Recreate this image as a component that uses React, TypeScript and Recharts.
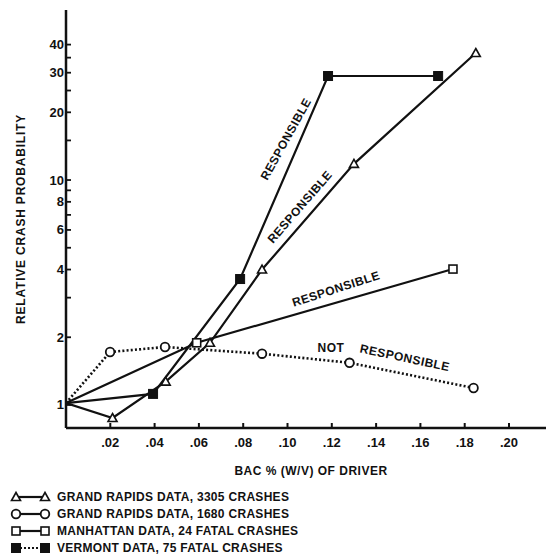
import React from 'react';
import { LineChart, Line, XAxis, YAxis, ReferenceDot } from 'recharts';

// Grand Rapids data, 3305 crashes (triangles)
const grBac3305 = [0, 0.021, 0.045, 0.065, 0.0885, 0.13, 0.185];
const grRel3305 = [1.02, 0.875, 1.27, 1.89, 4.0, 11.8, 36.7];
// Grand Rapids data, 1680 crashes (circles)
const grBac1680 = [0, 0.0199, 0.0447, 0.0885, 0.128, 0.184];
const grRel1680 = [1.02, 1.72, 1.81, 1.69, 1.54, 1.19];
// Manhattan data, 24 fatal crashes (open squares)
const mnBac = [0, 0.059, 0.1747];
const mnRel = [1.02, 1.89, 4.02];
// Vermont data, 75 fatal crashes (filled squares)
const vtBac = [0, 0.0393, 0.0786, 0.1183, 0.168];
const vtRel = [1.02, 1.12, 3.63, 29, 29];

const xTicks = [0.02, 0.04, 0.06, 0.08, 0.1, 0.12, 0.14, 0.16, 0.18, 0.2];
const xTickLabels = ['.02', '.04', '.06', '.08', '.10', '.12', '.14', '.16', '.18', '.20'];
const yTicks = [1, 2, 3, 4, 5, 6, 7, 8, 9, 10, 15, 20, 25, 30, 35, 40];
const yLabeled = [1, 2, 4, 6, 8, 10, 20, 30, 40];

const legendLabels = [
  'GRAND RAPIDS DATA, 3305 CRASHES',
  'GRAND RAPIDS DATA, 1680 CRASHES',
  'MANHATTAN DATA, 24 FATAL CRASHES',
  'VERMONT DATA, 75 FATAL CRASHES',
];

const noteText = ['RESPONSIBLE', 'RESPONSIBLE', 'RESPONSIBLE', 'NOT', 'RESPONSIBLE'];
const noteBac = [0.0993, 0.1056, 0.1219, 0.1196, 0.153];
const noteRel = [15.2, 7.59, 3.28, 1.79, 1.62];
const noteAngle = [-61, -49, -18, 0, 12];

const INK = '#111';
const FONT = '"Liberation Sans", Arial, Helvetica, sans-serif';

const toRows = (xs: number[], ys: number[]) => xs.map((x, i) => ({ x, y: ys[i] }));

type Kind = 'triangle' | 'circle' | 'square' | 'filled';

const series: { name: string; data: { x: number; y: number }[]; kind: Kind; dotted: boolean }[] = [
  { name: legendLabels[0], data: toRows(grBac3305, grRel3305), kind: 'triangle', dotted: false },
  { name: legendLabels[1], data: toRows(grBac1680, grRel1680), kind: 'circle', dotted: true },
  { name: legendLabels[2], data: toRows(mnBac, mnRel), kind: 'square', dotted: false },
  { name: legendLabels[3], data: toRows(vtBac, vtRel), kind: 'filled', dotted: false },
];
const legendDotted = [false, false, false, true];

function Marker({ kind, cx, cy }: { kind: Kind; cx: number; cy: number }) {
  if (kind === 'triangle') {
    return (
      <polygon
        points={`${cx},${cy - 4.5} ${cx + 4.5},${cy + 3.5} ${cx - 4.5},${cy + 3.5}`}
        fill="#fff"
        stroke={INK}
        strokeWidth={1.6}
      />
    );
  }
  if (kind === 'circle') {
    return <circle cx={cx} cy={cy} r={4.3} fill="#fff" stroke={INK} strokeWidth={1.8} />;
  }
  if (kind === 'square') {
    return <rect x={cx - 4} y={cy - 4} width={8} height={8} fill="#fff" stroke={INK} strokeWidth={1.6} />;
  }
  return <rect x={cx - 4.5} y={cy - 4.5} width={9} height={9} fill={INK} stroke={INK} strokeWidth={1} />;
}

const makeDot = (kind: Kind, name: string) => (props: any) => {
  const { cx, cy, index } = props;
  if (index === 0 || cx == null || cy == null) return <g key={`${name}-${index}`} />;
  return (
    <g key={`${name}-${index}`}>
      <Marker kind={kind} cx={cx} cy={cy} />
    </g>
  );
};

const X_MARGIN = 14;
const Y_MARGIN = 7;
const TICK_LEN = 5;

const XTick = (props: any) => {
  const { x, y, payload } = props;
  const i = xTicks.indexOf(payload.value);
  const axisY = y - X_MARGIN + TICK_LEN;
  return (
    <g>
      <line x1={x} x2={x} y1={axisY} y2={axisY - TICK_LEN} stroke={INK} strokeWidth={2} />
      <text x={x} y={y} textAnchor="middle" dominantBaseline="hanging" fontFamily={FONT} fontWeight="bold" fontSize={13} fill={INK}>
        {i >= 0 ? xTickLabels[i] : ''}
      </text>
    </g>
  );
};

const YTick = (props: any) => {
  const { x, y, payload } = props;
  const show = yLabeled.includes(payload.value);
  const axisX = x + Y_MARGIN - TICK_LEN;
  return (
    <g>
      <line x1={axisX} x2={axisX + TICK_LEN} y1={y} y2={y} stroke={INK} strokeWidth={1.8} />
      <text x={x} y={y} textAnchor="end" dominantBaseline="central" fontFamily={FONT} fontWeight="bold" fontSize={13} fill={INK}>
        {show ? String(payload.value) : ''}
      </text>
    </g>
  );
};

const noteLabel = (i: number) => (p: any) => {
  const vb = p.viewBox || {};
  const cx = (vb.x ?? 0) + (vb.width ?? 0) / 2;
  const cy = (vb.y ?? 0) + (vb.height ?? 0) / 2;
  return (
    <text
      x={cx}
      y={cy}
      textAnchor="middle"
      dominantBaseline="central"
      transform={`rotate(${noteAngle[i]} ${cx} ${cy})`}
      fontFamily={FONT}
      fontWeight="bold"
      fontSize={12}
      letterSpacing={0.5}
      fill={INK}
    >
      {noteText[i]}
    </text>
  );
};

function Legend() {
  return (
    <svg width={340} height={70} style={{ position: 'absolute', left: 0, top: 488 }}>
      {series.map((s, i) => {
        const cy = 9 + i * 17;
        return (
          <g key={s.name}>
            <line
              x1={16}
              x2={45}
              y1={cy}
              y2={cy}
              stroke={INK}
              strokeWidth={2.2}
              strokeDasharray={legendDotted[i] ? '2 2' : undefined}
            />
            <Marker kind={s.kind} cx={16} cy={cy} />
            <Marker kind={s.kind} cx={45} cy={cy} />
            <text x={57} y={cy} dominantBaseline="central" fontFamily={FONT} fontWeight="bold" fontSize={12} letterSpacing={0.3} fill={INK}>
              {s.name}
            </text>
          </g>
        );
      })}
    </svg>
  );
}

export default function App() {
  return (
    <div style={{ position: 'absolute', left: 0, top: 0, width: 546, height: 558, background: '#fff', overflow: 'hidden' }}>
      <LineChart width={546} height={558} margin={{ top: 10, right: 0, left: 0, bottom: 80 }}>
        <XAxis
          dataKey="x"
          type="number"
          domain={[0, 0.2167]}
          allowDataOverflow
          ticks={xTicks}
          interval={0}
          tick={<XTick />}
          tickSize={-TICK_LEN}
          tickMargin={X_MARGIN}
          tickLine={false}
          axisLine={{ stroke: INK, strokeWidth: 2.5 }}
          height={50}
          label={{
            value: 'BAC % (W/V) OF DRIVER',
            position: 'insideBottom',
            offset: 3,
            dx: 5,
            style: { fontFamily: FONT, fontWeight: 'bold', fontSize: 12, letterSpacing: 0.5, fill: INK },
          }}
        />
        <XAxis
          xAxisId="top"
          orientation="top"
          type="number"
          domain={[0, 0.2167]}
          allowDataOverflow
          tick={false}
          tickLine={false}
          height={0}
          axisLine={{ stroke: INK, strokeWidth: 2 }}
        />
        <YAxis
          type="number"
          scale="log"
          domain={[0.79, 57]}
          allowDataOverflow
          ticks={yTicks}
          interval={0}
          tick={<YTick />}
          tickSize={-TICK_LEN}
          tickMargin={Y_MARGIN}
          tickLine={false}
          axisLine={{ stroke: INK, strokeWidth: 2.5 }}
          width={66}
          label={{
            value: 'RELATIVE CRASH PROBABILITY',
            angle: -90,
            position: 'insideLeft',
            offset: 21,
            style: { textAnchor: 'middle', fontFamily: FONT, fontWeight: 'bold', fontSize: 12, letterSpacing: 0.8, fill: INK },
          }}
        />
        {series.map((s) => (
          <Line
            key={s.name}
            data={s.data}
            dataKey="y"
            name={s.name}
            type="linear"
            stroke={INK}
            strokeWidth={s.dotted ? 2.6 : 2.2}
            strokeDasharray={s.dotted ? '2 2.2' : undefined}
            dot={makeDot(s.kind, s.name)}
            activeDot={false}
            isAnimationActive={false}
          />
        ))}
        {noteText.map((t, i) => (
          <ReferenceDot
            key={`note-${i}`}
            x={noteBac[i]}
            y={noteRel[i]}
            r={0}
            fill="none"
            stroke="none"
            label={noteLabel(i)}
          />
        ))}
      </LineChart>
      <Legend />
    </div>
  );
}
